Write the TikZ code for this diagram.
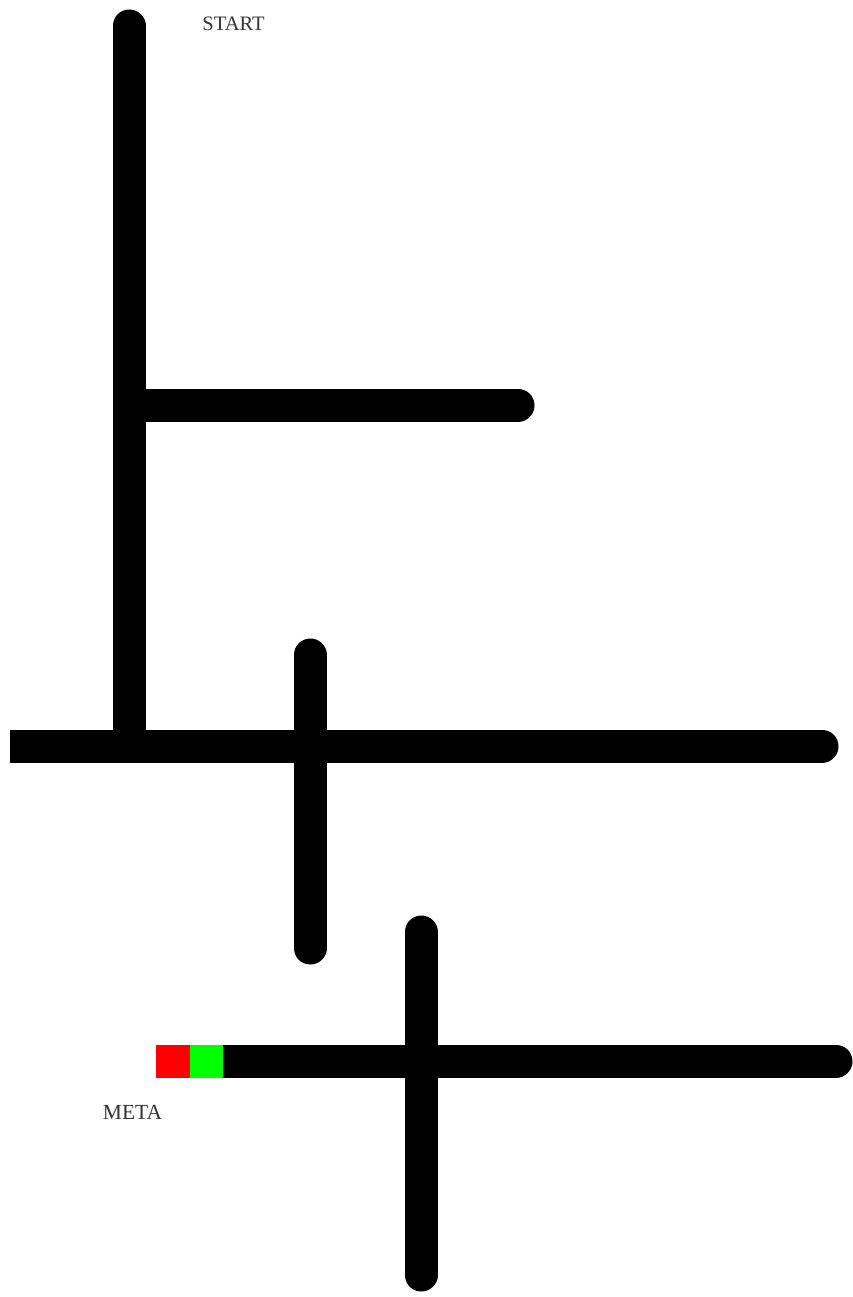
\documentclass[tikz,border=0pt]{standalone}
\usepackage{fontspec}
\setmainfont{Liberation Serif}
\begin{document}
\begin{tikzpicture}[x=1pt,y=-1pt,
  wall/.style={line width=33pt, black, line cap=round},
  flatwall/.style={line width=33pt, black, line cap=butt},
  lbl/.style={text=black!80, inner sep=0pt, anchor=base}]
\useasboundingbox[fill=white] (0,0) rectangle (852,1297);
% coordinates
\coordinate (v1t) at (129,26);
\coordinate (v1b) at (129,746);
\coordinate (h1l) at (145,405);
\coordinate (h1r) at (518,405);
\coordinate (h2l) at (10,746);
\coordinate (h2r) at (822,746);
\coordinate (v2t) at (310,655);
\coordinate (v2b) at (310,948);
\coordinate (v3t) at (421,932);
\coordinate (v3b) at (421,1275);
\coordinate (h3l) at (223,1061);
\coordinate (h3r) at (836,1061);
% walls
\draw[wall] (v1t) -- (v1b);
\draw[wall] (h1l) -- (h1r);
\draw[flatwall] (h2l) -- (h2r);
\draw[wall] ([xshift=-20pt]h2r) -- (h2r);
\draw[wall] (v2t) -- (v2b);
\draw[wall] (v3t) -- (v3b);
\draw[flatwall] (h3l) -- (h3r);
\draw[wall] ([xshift=-20pt]h3r) -- (h3r);
% goal cells
\fill[red] (156,1044.5) rectangle (190,1077.5);
\fill[green] (190,1044.5) rectangle (223,1077.5);
% labels
\node[lbl, font=\fontsize{20.5}{24}\selectfont] (start) at (233.5,31) {START};
\node[lbl, font=\fontsize{21.5}{25}\selectfont] (meta) at (132.5,1119) {META};
\end{tikzpicture}
\end{document}
